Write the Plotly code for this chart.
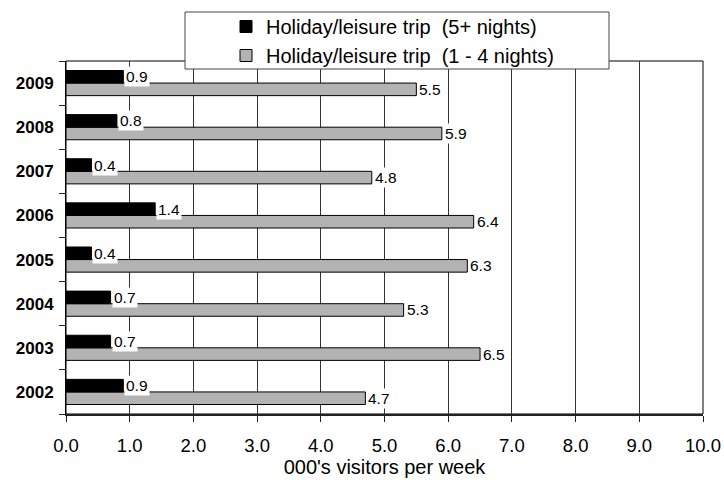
import plotly.graph_objects as go

years = ["2002", "2003", "2004", "2005", "2006", "2007", "2008", "2009"]
long_stay = [0.9, 0.7, 0.7, 0.4, 1.4, 0.4, 0.8, 0.9]      # 5+ nights
short_stay = [4.7, 6.5, 5.3, 6.3, 6.4, 4.8, 5.9, 5.5]     # 1 - 4 nights
series_names = ["Holiday/leisure trip  (5+ nights)", "Holiday/leisure trip  (1 - 4 nights)"]
x_ticks = [0, 1, 2, 3, 4, 5, 6, 7, 8, 9, 10]
x_title = "000's visitors per week"

FONT = "Liberation Sans, Arial, sans-serif"
BARGAP = 0.43
half = (1 - BARGAP) / 4  # offset of each bar centre from category centre

fig = go.Figure()
fig.add_trace(go.Bar(
    y=years, x=short_stay, orientation="h", name=series_names[1],
    marker=dict(color="#b3b3b3", line=dict(color="#000000", width=1)),
))
fig.add_trace(go.Bar(
    y=years, x=long_stay, orientation="h", name=series_names[0],
    marker=dict(color="#000000", line=dict(color="#000000", width=1)),
))

annotations = []
for i, (yr, v) in enumerate(zip(years, long_stay)):
    annotations.append(dict(x=v, y=i + half, xref="x", yref="y", text=f"{v:.1f}",
                            showarrow=False, xanchor="left", yanchor="middle", xshift=1,
                            bgcolor="white", borderpad=1,
                            font=dict(family=FONT, size=15.5, color="black")))
for i, (yr, v) in enumerate(zip(years, short_stay)):
    annotations.append(dict(x=v, y=i - half, xref="x", yref="y", text=f"{v:.1f}",
                            showarrow=False, xanchor="left", yanchor="middle", xshift=1,
                            bgcolor="white", borderpad=1,
                            font=dict(family=FONT, size=15.5, color="black")))

W, H = 724, 480
ML, MR, MT, MB = 66, 21, 61, 66
pw = W - ML - MR
ph = H - MT - MB

def px_x(p):
    return (p - ML) / pw

def px_y(p):
    return 1 + (MT - p) / ph

shapes = [
    dict(type="rect", xref="paper", yref="paper", x0=0, x1=1, y0=0, y1=1,
         line=dict(color="#000000", width=1), fillcolor="rgba(0,0,0,0)", layer="below"),
    dict(type="rect", xref="paper", yref="paper", x0=px_x(185), x1=px_x(609),
         y0=px_y(69), y1=px_y(12), line=dict(color="#444444", width=1),
         fillcolor="white", layer="above"),
]

fig.update_layout(
    width=W, height=H,
    margin=dict(l=ML, r=MR, t=MT, b=MB, pad=0, autoexpand=False),
    paper_bgcolor="white", plot_bgcolor="white",
    barmode="group", bargap=BARGAP, bargroupgap=0,
    font=dict(family=FONT, color="black"),
    showlegend=True,
    legend=dict(
        x=px_x(226), y=px_y(7), xanchor="left", yanchor="top",
        traceorder="reversed", bgcolor="rgba(0,0,0,0)", borderwidth=0,
        font=dict(family=FONT, size=20, color="black"),
        tracegroupgap=0,
    ),
    xaxis=dict(
        range=[0, 10], tickvals=x_ticks, tickformat=".1f",
        showgrid=True, gridcolor="#333333", gridwidth=1,
        showline=True, linecolor="#222222", linewidth=2,
        ticks="outside", ticklen=6, tickcolor="#222222",
        tickfont=dict(family=FONT, size=18.5, color="black"),
        ticklabelstandoff=8,
        title=dict(text=x_title, font=dict(family=FONT, size=20, color="black"), standoff=2),
        zeroline=False, fixedrange=True, automargin=False,
    ),
    yaxis=dict(
        type="category", categoryorder="array", categoryarray=years,
        showline=True, linecolor="#000000", linewidth=1,
        ticks="outside", ticklen=6, tickcolor="#222222", tickson="boundaries",
        tickfont=dict(family=FONT, size=17, color="black", weight="bold"),
        ticklabelstandoff=8,
        showgrid=False, zeroline=False, fixedrange=True, automargin=False,
    ),
    annotations=annotations,
    shapes=shapes,
)

fig.write_html("out.html")
